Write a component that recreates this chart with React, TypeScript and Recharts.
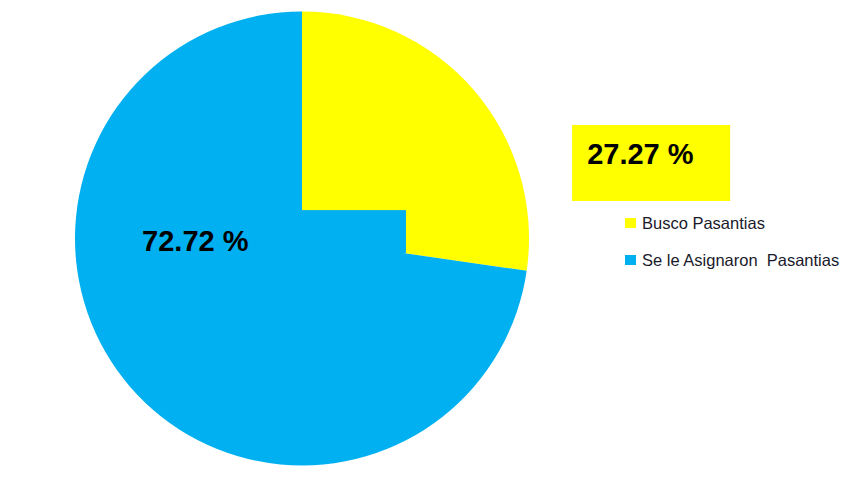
import React from 'react';
import { PieChart, Pie, Cell, Legend } from 'recharts';

const categories = ['Busco Pasantias', 'Se le Asignaron  Pasantias'];
const values = [27.27, 72.72];
const labels = ['27.27 %', '72.72 %'];
const colors = ['#FFFF00', '#00B0F0'];

const data = categories.map((name, i) => ({ name, value: values[i] }));

const renderLabel = (props: any) => {
  const { cx, cy, outerRadius, index } = props;
  const r = outerRadius;
  if (index === 0) {
    const bx = cx + r * 1.19;
    const by = cy - r * 0.5;
    return (
      <g>
        <rect x={bx} y={by} width={158} height={76} fill={colors[0]} />
        <text x={bx + 15} y={by + 39} fontSize={29} fontWeight="bold" fill="#000" fontFamily="Liberation Sans, Arial, sans-serif">
          {labels[0]}
        </text>
      </g>
    );
  }
  return (
    <g>
      <rect x={cx} y={cy - r * 0.125} width={r * 0.458} height={r * 0.19} fill={colors[1]} />
      <text x={cx - r * 0.47} y={cy + 12} textAnchor="middle" fontSize={29} fontWeight="bold" fill="#000" fontFamily="Liberation Sans, Arial, sans-serif">
        {labels[1]}
      </text>
    </g>
  );
};

const renderLegend = () => (
  <div style={{ fontFamily: 'Liberation Sans, Arial, sans-serif', fontSize: 16.5, color: '#1a1a2a' }}>
    {categories.map((c, i) => (
      <div key={c} style={{ display: 'flex', alignItems: 'center', height: 20, marginBottom: i === 0 ? 17 : 0 }}>
        <span style={{ display: 'inline-block', width: 11, height: 10, background: colors[i], marginRight: 6 }} />
        <span style={{ whiteSpace: 'pre' }}>{c}</span>
      </div>
    ))}
  </div>
);

export default function App() {
  return (
    <div style={{ position: 'absolute', left: 0, top: 0, background: '#fff' }}>
      <PieChart width={853} height={486} margin={{ top: 0, right: 0, bottom: 0, left: 0 }}>
        <Pie
          data={data}
          dataKey="value"
          nameKey="name"
          cx={302}
          cy={238.5}
          outerRadius={227}
          startAngle={90}
          endAngle={-270}
          stroke="none"
          label={renderLabel}
          labelLine={false}
          isAnimationActive={false}
        >
          {data.map((d, i) => (
            <Cell key={d.name} fill={colors[i]} />
          ))}
        </Pie>
        <Legend
          content={renderLegend}
          wrapperStyle={{ position: 'absolute', left: 625, top: 213, width: 228 }}
        />
      </PieChart>
    </div>
  );
}
